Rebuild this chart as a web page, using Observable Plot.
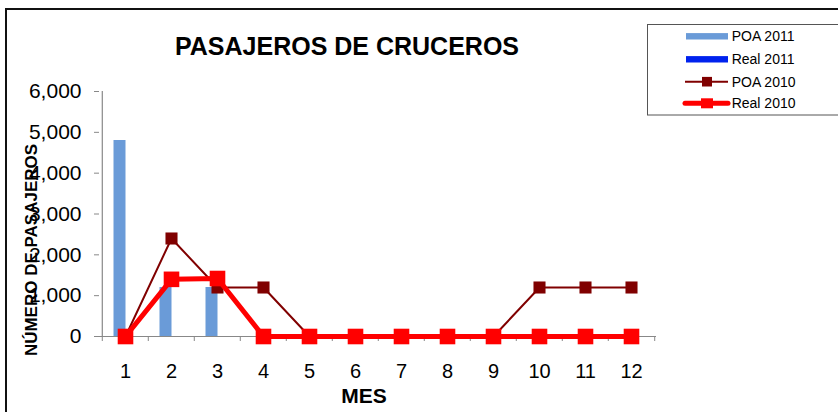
<!DOCTYPE html>
<html>
<head>
<meta charset="utf-8">
<script src="https://cdn.jsdelivr.net/npm/d3@7"></script>
<script src="https://cdn.jsdelivr.net/npm/@observablehq/plot@0.6"></script>
<style>
  html, body { margin: 0; padding: 0; background: #fff; }
  #wrap { position: relative; width: 838px; height: 412px; overflow: hidden; font-family: "Liberation Sans", Arial, sans-serif; }
  #border { position: absolute; left: 5px; top: 8px; width: 900px; height: 500px; border-left: 2px solid #111; border-top: 2px solid #111; }
  #chart { position: absolute; left: 0; top: 0; }
  .lbl { position: absolute; line-height: 1; white-space: nowrap; font-weight: bold; color: #000; }
  #title { left: 347px; top: 33.5px; font-size: 25px; transform: translateX(-50%); }
  #xlabel { left: 364px; top: 385px; font-size: 21px; transform: translateX(-50%); }
  #ylabel { left: 31px; top: 250px; font-size: 17px; transform: translate(-50%, -50%) rotate(-90deg); }
  #legend { position: absolute; left: 647px; top: 24px; }
</style>
</head>
<body>
<div id="wrap">
  <div id="border"></div>
  <div id="chart"></div>
  <div class="lbl" id="title">PASAJEROS DE CRUCEROS</div>
  <div class="lbl" id="xlabel">MES</div>
  <div class="lbl" id="ylabel">NÚMERO DE PASAJEROS</div>
  <div id="legend"></div>
</div>
<script>
const months = [1, 2, 3, 4, 5, 6, 7, 8, 9, 10, 11, 12];
const poa2011 = [4800, 1200, 1200, 0, 0, 0, 0, 0, 0, 0, 0, 0];
const real2011 = [0, 0, 0, 0, 0, 0, 0, 0, 0, 0, 0, 0];
const poa2010 = [0, 2400, 1200, 1200, 0, 0, 0, 0, 0, 1200, 1200, 1200];
const real2010 = [0, 1400, 1420, 0, 0, 0, 0, 0, 0, 0, 0, 0];
const yTicks = [0, 1000, 2000, 3000, 4000, 5000, 6000];
const seriesNames = ["POA 2011", "Real 2011", "POA 2010", "Real 2010"];
const seriesColors = ["#6A9BD8", "#0022EE", "#800000", "#FF0000"];

const toRows = vals => months.map((m, i) => ({month: m, value: vals[i]}));
const rPoa11 = toRows(poa2011);
const rReal11 = toRows(real2011);
const rPoa10 = toRows(poa2010);
const rReal10 = toRows(real2010);

const W = 838, H = 412, ML = 99, MR = 182, MT = 91, MB = 76;
const bw = (W - ML - MR) / months.length;

const plot = Plot.plot({
  width: W, height: H,
  marginLeft: ML, marginRight: MR, marginTop: MT, marginBottom: MB,
  style: {fontFamily: "'Liberation Sans', Arial, sans-serif", fontSize: "20px", color: "#000", background: "transparent", overflow: "visible"},
  x: {type: "band", domain: months, padding: 0, axis: null, label: null},
  y: {domain: [0, 6000], axis: null, label: null},
  marks: [
    Plot.barY(rPoa11, {x: "month", y: "value", fill: seriesColors[0], insetLeft: 11.5, insetRight: 22.5}),
    Plot.barY(rReal11, {x: "month", y: "value", fill: seriesColors[1], insetLeft: 23.5, insetRight: 10}),
    Plot.ruleY([0], {stroke: "#888", strokeWidth: 1.2}),
    Plot.ruleX([months[0]], {dx: -bw / 2, stroke: "#888", strokeWidth: 1.2}),
    Plot.ruleX(months, {x: d => d, dx: -bw / 2, y1: 0, y2: 0, insetTop: 5, stroke: "#888"}),
    Plot.ruleX([months[months.length - 1]], {dx: bw / 2, y1: 0, y2: 0, insetTop: 5, stroke: "#888"}),
    Plot.axisY({ticks: yTicks, tickFormat: d3.format(","), tickSize: 5, tickPadding: 13, stroke: "#888", fill: "#000", fontSize: 21, label: null}),
    Plot.axisX({tickSize: 0, tickPadding: 27, fill: "#000", fontSize: 20, label: null}),
    Plot.line(rPoa10, {x: "month", y: "value", stroke: seriesColors[2], strokeWidth: 2}),
    Plot.dot(rPoa10, {x: "month", y: "value", symbol: "square", r: 6.8, fill: seriesColors[2]}),
    Plot.line(rReal10, {x: "month", y: "value", stroke: seriesColors[3], strokeWidth: 5}),
    Plot.dot(rReal10, {x: "month", y: "value", symbol: "square", r: 8.8, fill: seriesColors[3]})
  ]
});
document.getElementById("chart").appendChild(plot);

// Legend
const lg = d3.select("#legend").append("svg").attr("width", 195).attr("height", 92);
lg.append("rect").attr("x", 0.5).attr("y", 0.5).attr("width", 200).attr("height", 90.5)
  .attr("fill", "#fff").attr("stroke", "#555").attr("stroke-width", 1);
const rowY = [12.3, 35.3, 57.7, 79.3];
seriesNames.forEach((name, i) => {
  const g = lg.append("g").attr("transform", `translate(0,${rowY[i]})`);
  if (i < 2) {
    g.append("rect").attr("x", 39).attr("y", -3.2).attr("width", 42).attr("height", 6.4).attr("fill", seriesColors[i]);
  } else if (i === 2) {
    g.append("line").attr("x1", 38).attr("x2", 81).attr("y1", 0).attr("y2", 0).attr("stroke", seriesColors[i]).attr("stroke-width", 2);
    g.append("rect").attr("x", 55).attr("y", -4.8).attr("width", 10).attr("height", 9.6).attr("fill", seriesColors[i]);
  } else {
    g.append("line").attr("x1", 38).attr("x2", 81).attr("y1", 0).attr("y2", 0).attr("stroke", seriesColors[i]).attr("stroke-width", 5).attr("stroke-linecap", "round");
    g.append("rect").attr("x", 54).attr("y", -5).attr("width", 12).attr("height", 10).attr("fill", seriesColors[i]);
  }
  g.append("text").attr("x", 84.7).attr("y", 0).attr("dy", "0.36em")
    .style("font-family", "'Liberation Sans', Arial, sans-serif").style("font-size", "14px").attr("fill", "#000").text(name);
});
</script>
</body>
</html>
